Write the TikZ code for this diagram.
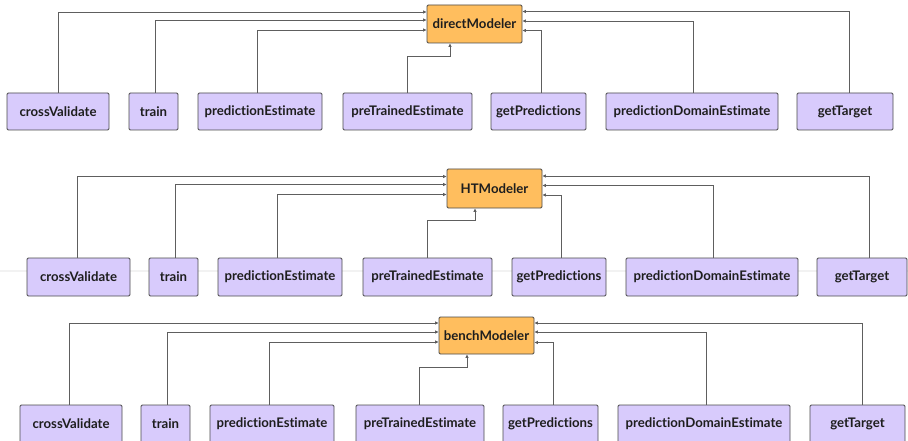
\documentclass[tikz,border=0pt]{standalone}
\usepackage{fontspec}
\setmainfont{Lato}[Ligatures={NoCommon}]
\usetikzlibrary{arrows.meta,calc}
\definecolor{fnfill}{HTML}{D8CBFC}
\definecolor{mfill}{HTML}{FFBE5E}
\definecolor{bordc}{HTML}{4A4A4A}
\definecolor{linec}{HTML}{5E5E5E}
\definecolor{txtc}{HTML}{1E1E1E}
\tikzset{
  fn/.style={draw=bordc, fill=fnfill, line width=0.9pt, rounded corners=1.2pt, inner sep=0pt,
    font=\bfseries\fontsize{13.2}{15}\selectfont, text=txtc},
  modbox/.style={draw=bordc, fill=mfill, line width=0.9pt, rounded corners=1.2pt, inner sep=0pt,
    font=\bfseries\fontsize{13.2}{15}\selectfont, text=txtc, minimum width=95},
  conn/.style={draw=linec, line width=0.8pt, -{Triangle[length=3.5pt,width=3pt]}}
}
\begin{document}
\begin{tikzpicture}[x=1pt,y=-1pt]
\useasboundingbox (0,0) rectangle (908,441);
\draw[gray!10, line width=1.2pt] (0,271) -- (908,271);

% ---------- Row 1 ----------
\node[modbox, minimum height=38] (dm) at (474.5,24) {directModeler};
\node[fn, minimum width=102, minimum height=37] (cv1) at (58,111.5) {crossValidate};
\node[fn, minimum width=49, minimum height=37] (tr1) at (153.5,111.5) {train};
\node[fn, minimum width=124, minimum height=37] (pe1) at (260,111.5) {predictionEstimate};
\node[fn, minimum width=129, minimum height=37] (pt1) at (407.5,111.5) {preTrainedEstimate};
\node[fn, minimum width=95, minimum height=37] (gp1) at (538.5,111.5) {getPredictions};
\node[fn, minimum width=172, minimum height=37] (pd1) at (692,111.5) {predictionDomainEstimate};
\node[fn, minimum width=96, minimum height=37] (gt1) at (845,111.5) {getTarget};

\draw[conn] (cv1.north) |- ([yshift=12pt]dm.west);
\draw[conn] ([xshift=1.5pt]tr1.north) |- ([yshift=4pt]dm.west);
\draw[conn] ([xshift=-3pt]pe1.north) |- ([yshift=-6pt]dm.west);
\draw[conn] (pt1.north) -- ++(0,-36) -| ([xshift=-24.5pt]dm.south);
\draw[conn] ([xshift=2.5pt]gp1.north) |- ([yshift=-6.5pt]dm.east);
\draw[conn] ([xshift=1pt]pd1.north) |- ([yshift=3pt]dm.east);
\draw[conn] ([xshift=4pt]gt1.north) |- ([yshift=12.5pt]dm.east);

% ---------- Row 2 ----------
\node[modbox, minimum height=39] (ht) at (494.5,188.5) {HTModeler};
\node[fn, minimum width=103, minimum height=38] (cv2) at (78.5,277) {crossValidate};
\node[fn, minimum width=49, minimum height=38] (tr2) at (173.5,277) {train};
\node[fn, minimum width=124, minimum height=38] (pe2) at (280,277) {predictionEstimate};
\node[fn, minimum width=129, minimum height=38] (pt2) at (427.5,277) {preTrainedEstimate};
\node[fn, minimum width=94, minimum height=38] (gp2) at (559,277) {getPredictions};
\node[fn, minimum width=172, minimum height=38] (pd2) at (712,277) {predictionDomainEstimate};
\node[fn, minimum width=90, minimum height=38] (gt2) at (862,277) {getTarget};

\draw[conn] ([xshift=-1.5pt]cv2.north) |- ([yshift=12pt]ht.west);
\draw[conn] ([xshift=1.5pt]tr2.north) |- ([yshift=4pt]ht.west);
\draw[conn] ([xshift=-3pt]pe2.north) |- ([yshift=-6pt]ht.west);
\draw[conn] (pt2.north) -- ++(0,-37) -| ([xshift=-19.5pt]ht.south);
\draw[conn] ([xshift=2pt]gp2.north) |- ([yshift=-6.5pt]ht.east);
\draw[conn] ([xshift=1pt]pd2.north) |- ([yshift=3pt]ht.east);
\draw[conn] ([xshift=7pt]gt2.north) |- ([yshift=12.5pt]ht.east);

% ---------- Row 3 ----------
\node[modbox, minimum height=37] (bm) at (486.5,335.5) {benchModeler};
\node[fn, minimum width=102, minimum height=38] (cv3) at (71,424) {crossValidate};
\node[fn, minimum width=49, minimum height=38] (tr3) at (165.5,424) {train};
\node[fn, minimum width=124, minimum height=38] (pe3) at (272,424) {predictionEstimate};
\node[fn, minimum width=128, minimum height=38] (pt3) at (420,424) {preTrainedEstimate};
\node[fn, minimum width=95, minimum height=38] (gp3) at (550.5,424) {getPredictions};
\node[fn, minimum width=172, minimum height=38] (pd3) at (704,424) {predictionDomainEstimate};
\node[fn, minimum width=95, minimum height=38] (gt3) at (857.5,424) {getTarget};

\draw[conn] ([xshift=-2pt]cv3.north) |- ([yshift=12.5pt]bm.west);
\draw[conn] ([xshift=1.5pt]tr3.north) |- ([yshift=3.5pt]bm.west);
\draw[conn] ([xshift=-3pt]pe3.north) |- ([yshift=-6.5pt]bm.west);
\draw[conn] ([xshift=-1pt]pt3.north) -- ++(0,-37) -| ([xshift=-19.5pt]bm.south);
\draw[conn] ([xshift=2.5pt]gp3.north) |- ([yshift=-7pt]bm.east);
\draw[conn] ([xshift=2pt]pd3.north) |- ([yshift=3.5pt]bm.east);
\draw[conn] ([xshift=4.5pt]gt3.north) |- ([yshift=12.5pt]bm.east);
\end{tikzpicture}
\end{document}
